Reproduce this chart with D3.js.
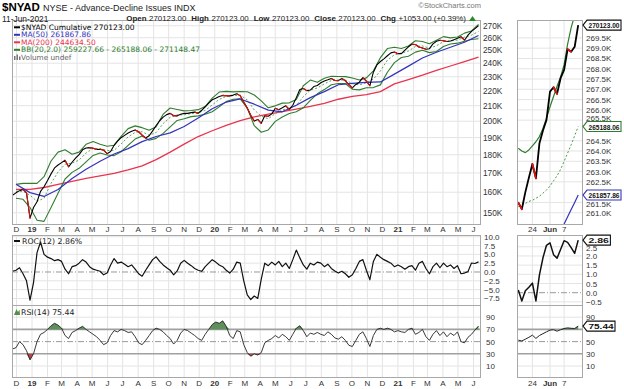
<!DOCTYPE html>
<html>
<head>
<meta charset="utf-8">
<script src="https://cdn.jsdelivr.net/npm/d3@7"></script>
<style>
  body { margin: 0; background: #fff; }
  svg { display: block; font-family: "Liberation Sans", Arial, sans-serif; }
</style>
</head>
<body>
<svg id="chart" width="624" height="389"></svg>
<script>
// ---- data (values in thousands) ----
// weekly closes, first week ending 23-Nov-2018
var priceStart = new Date(2018, 10, 23);
var price = [158.5,
  159.7,160.8,161.4,159.7,147.5,152.5,155.3,160.4,162.8,166.0,
  169.5,172.7,174.3,175.6,176.9,173.3,175.8,178.1,180.1,182.8,
  183.9,184.1,183.7,183.0,183.1,182.6,180.6,181.8,185.4,187.9,
  189.9,191.3,192.7,193.8,194.5,193.5,191.4,189.7,191.1,194.0,
  197.3,200.3,202.6,204.2,205.0,203.5,203.4,204.4,205.0,205.0,
  205.5,205.8,205.1,207.0,209.3,211.7,213.9,215.0,216.2,216.9,
  216.7,216.6,217.1,218.1,216.6,212.4,208.5,203.8,200.1,201.1,
  198.7,203.5,203.2,204.7,208.3,207.4,208.6,209.9,207.6,210.3,
  215.4,220.9,221.7,220.2,220.6,223.0,223.8,225.7,227.0,227.8,
  228.7,227.3,227.2,228.7,227.1,224.3,222.1,224.5,226.1,229.4,
  226.8,223.6,233.3,238.7,241.3,243.3,245.7,247.9,248.6,247.3,
  247.3,250.0,252.7,254.7,254.5,252.6,251.7,250.8,251.2,255.0,
  257.1,257.9,257.5,257.0,257.3,258.4,259.5,260.8,258.0,262.1,
  265.2,267.5,270.123];

var roc = [0.2,
  0.5,1.2,-0.5,-2.5,-8.0,-3.0,5.5,8.5,5.0,4.2,
  3.8,3.2,3.5,3.0,0.8,-0.5,1.5,1.8,2.5,3.5,
  2.8,1.5,0.8,0.5,0.2,-0.8,-0.3,2.0,3.8,2.5,
  2.8,2.2,1.5,2.0,0.8,-0.5,-1.2,0.5,2.0,3.5,
  4.3,3.0,2.0,1.2,0.5,-0.8,0.3,2.5,3.3,2.5,
  1.8,1.0,0.5,0.2,1.5,2.5,3.5,2.8,2.0,1.5,
  0.5,-0.3,0.8,2.8,2.5,-2.5,-6.5,-7.8,-6.8,-7.5,
  -2.0,2.5,1.8,2.8,2.0,3.0,1.5,2.5,1.0,3.5,
  6.2,4.0,2.0,0.8,2.5,2.0,2.8,2.5,1.5,2.2,
  1.0,0.3,-0.3,0.2,-0.5,-1.5,-0.8,1.0,3.0,3.5,
  0.5,-2.2,3.0,5.0,4.2,3.5,3.0,2.5,1.5,2.0,
  1.5,0.8,1.5,1.8,0.5,2.5,3.0,1.0,-0.5,1.5,
  2.5,1.2,2.5,1.5,2.0,1.0,1.8,-0.5,-0.3,0.1,
  2.55,2.4,2.86];

var rsi = [38,
  40,50,45,35,20,30,50,62,65,70,
  76,80,77,72,60,55,65,68,72,75,
  70,66,62,58,52,45,48,60,68,66,
  70,68,65,66,58,48,45,52,60,68,
  72,70,66,60,55,46,52,64,70,68,
  64,60,55,52,62,70,78,82,80,84,
  75,60,55,68,66,45,32,26,30,28,
  32,48,52,55,60,56,62,58,52,62,
  72,76,68,58,64,62,65,62,60,66,
  62,56,54,58,52,44,42,52,62,66,
  55,42,60,70,72,70,72,70,66,68,
  66,65,70,72,62,65,70,58,52,62,
  68,60,66,58,64,60,66,50,48,57,
  62,69,75.44];

// Bollinger bands, every two weeks from 30-Nov-2018
var bandStart = new Date(2018, 10, 30);
var bbMid = [160.5,160.5,158.5,155.5,157,164.5,170.5,174.8,175.3,177,
  181,183.6,183.5,182.4,182.5,186.2,190.4,193.1,193.5,191.4,
  193.0,198.5,202.5,204.0,204.1,204.9,205.4,206.9,210.5,214.2,
  216.2,216.8,217.1,213.9,207.2,203.2,201.6,204.9,207.2,208.4,
  210.1,216.1,220.6,222.0,224.9,227.3,227.7,227.6,225.1,224.2,
  225.7,228.3,234.2,242.3,246.4,247.8,249.3,253.0,253.4,251.6,
  253.5,256.9,257.4,258.1,260.5,262.1,265.188];
var bbUpper = [164.0,164.5,164.5,164.5,168,176.5,181.5,182.8,180.3,181.5,
  186,187.6,186,184.9,185.5,190.7,195.4,197.1,196,194.4,
  196.5,204.5,208.5,207.5,206.6,206.9,207.4,209.4,215,219.2,
  219.7,219.3,219.6,219.4,217.2,213.2,208.6,209.9,211.7,211.9,
  214.1,223.6,227.6,226,228.9,230.3,230.2,230.1,229.1,227.7,
  229.2,234.3,244.2,251.3,252.4,251.3,253.3,257.5,256.9,255.1,
  258,260.9,259.9,260.6,263.8,265.6,271.148];
var bbLower = [157.0,156.5,152.5,146.5,146,152.5,159.5,166.8,170.3,172.5,
  176,179.6,181,179.9,179.5,181.7,185.4,189.1,191,188.4,
  189.5,192.5,196.5,200.5,201.6,202.9,203.4,204.4,206,209.2,
  212.7,214.3,214.6,208.4,197.2,193.2,194.6,199.9,202.7,204.9,
  206.1,208.6,213.6,218,220.9,224.3,225.2,225.1,221.1,220.7,
  222.2,222.3,224.2,233.3,240.4,244.3,245.3,248.5,249.9,248.1,
  249,252.9,254.9,255.6,257.2,258.6,259.228];

// moving averages, every four weeks from 30-Nov-2018
var maStart = new Date(2018, 10, 30);
var ma50 = [164.1,159.8,157.9,161.4,167.1,172.0,176.4,180.4,183.5,187.6,
  190.6,192.8,196.7,202.0,208.0,212.4,214.5,211.0,207.1,206.0,
  210.3,215.4,219.5,224.3,225.2,225.9,226.3,231.9,237.8,244.0,
  248.4,252.3,256.3,261.858];
var ma200 = [161.4,161.4,162.4,164.0,165.6,167.1,168.4,169.8,171.6,173.8,
  177.3,181.5,186.1,190.6,194.1,197.4,200.4,202.7,204.5,206.1,
  207.7,209.5,211.6,214.3,216.2,217.5,219.5,224.9,228.0,231.1,
  234.6,237.9,241.2,244.635];

// last four weeks, daily
var zDates = ["2021-05-18","2021-05-19","2021-05-20","2021-05-21","2021-05-24","2021-05-25",
  "2021-05-26","2021-05-27","2021-05-28","2021-06-01","2021-06-02","2021-06-03",
  "2021-06-04","2021-06-07","2021-06-08","2021-06-09","2021-06-10","2021-06-11"];
var zPrice = [261.49,261.17,262.0,262.7,263.37,262.67,264.38,265.0,265.51,266.89,267.1,266.78,
  267.54,267.94,268.95,268.83,269.07,270.123];
var zUpper = [264.13,264.0,263.92,264.05,264.25,264.45,264.7,265.1,265.6,266.15,266.65,267.15,
  267.6,268.2,269.2,270.0,270.6,271.148];
var zMid = [261.29,261.35,261.45,261.55,261.6,261.7,261.8,261.95,262.1,262.3,262.55,262.8,
  263.1,263.5,263.9,264.3,264.75,265.188];
var zMa50 = [null,null,null,null,null,null,null,null,null,258.9,259.2,259.55,
  259.95,260.45,260.8,261.15,261.5,261.858];
var zRoc = [0.15,-0.45,0.1,0.3,0.52,-0.45,0.97,1.9,2.58,2.71,2.07,1.88,
  2.35,2.83,2.74,2.45,2.14,2.86];
var zRsi = [52.4,51,54,57,60.6,55.2,60,63,66,68.8,69.5,67.1,
  69.5,71.5,72.5,71.8,71.5,75.44];

var priceTicks = [150,160,170,180,190,200,210,220,230,240,250,260,270];
var zPriceTicks = [261,261.5,262.5,263,263.5,264,264.5,265.5,266,266.5,267,267.5,268,268.5,269,269.5];
var rocTicks = [10,7.5,5,2.5,0,-2.5,-5,-7.5];
var zRocTicks = [2.5,2,1.5,1,0.5,0,-0.5];
var rsiTicks = [90,70,50,30,10];
var zRsiTicks = [90,50,30,10];

// ---- layout ----
var svg = d3.select("#chart");
var L = 12, R = 480, ZL = 517, ZR = 582;
var mainP = [20, 224], rocP = [235, 305], rsiP = [305, 377];
var BLACK = "#000", RED = "#e01010", BLUE = "#3333bb", PINK = "#e8344e", GREEN = "#2f7d2f", GRID = "#e4e4e4", FRAME = "#a8a8a8";

function dates(start, step, n) {
  return d3.range(n).map(function (i) { return d3.timeDay.offset(start, step * i); });
}
var wDates = dates(priceStart, 7, price.length);
var bDates = dates(bandStart, 14, bbMid.length);
var mDates = dates(maStart, 28, ma50.length);

var x = d3.scaleTime().domain([new Date(2018, 10, 22), new Date(2021, 5, 14)]).range([L, R]);
var y = d3.scaleLog().domain([144.8, 274.9]).range(mainP.slice().reverse());
var yRoc = d3.scaleLinear().domain([-9.35, 10.48]).range(rocP.slice().reverse());
var yRsi = d3.scaleLinear().domain([-8, 110]).range(rsiP.slice().reverse());
var zx = d3.scalePoint().domain(zDates).range([518.3, 578.2]);
var zy = d3.scaleLinear().domain([260.45, 270.37]).range(mainP.slice().reverse());
var zyRoc = d3.scaleLinear().domain([-0.67, 3.14]).range(rocP.slice().reverse());

var defs = svg.append("defs");
function clip(id, x0, y0, x1, y1) {
  defs.append("clipPath").attr("id", id).append("rect")
    .attr("x", x0).attr("y", y0).attr("width", x1 - x0).attr("height", y1 - y0);
}
clip("cMain", L, mainP[0], R, mainP[1]);
clip("cRoc", L, rocP[0], R, rocP[1]);
clip("cRsi", L, rsiP[0], R, rsiP[1]);
clip("zMain", ZL, mainP[0], ZR, mainP[1]);
clip("zRoc", ZL, rocP[0], ZR, rocP[1]);
clip("zRsi", ZL, rsiP[0], ZR, rsiP[1]);

function txt(g, x0, y0, s, size, fill, anchor, weight) {
  return g.append("text").attr("x", x0).attr("y", y0).text(s)
    .attr("font-size", size).attr("fill", fill || "#222")
    .attr("text-anchor", anchor || "start").attr("font-weight", weight || "normal");
}
function hline(g, x0, x1, yy, color, w, dash) {
  g.append("line").attr("x1", x0).attr("x2", x1).attr("y1", yy).attr("y2", yy)
    .attr("stroke", color).attr("stroke-width", w || 1).attr("stroke-dasharray", dash || null);
}
function vline(g, xx, y0, y1, color) {
  g.append("line").attr("x1", xx).attr("x2", xx).attr("y1", y0).attr("y2", y1)
    .attr("stroke", color).attr("stroke-width", 1);
}
function series(g, xs, vs, xsc, ysc, color, w, dash) {
  var pts = vs.map(function (v, i) { return { x: xs[i], v: v }; });
  g.append("path").datum(pts)
    .attr("d", d3.line().defined(function (d) { return d.v != null; })
      .x(function (d) { return xsc(d.x); }).y(function (d) { return ysc(d.v); }))
    .attr("fill", "none").attr("stroke", color).attr("stroke-width", w)
    .attr("stroke-dasharray", dash || null).attr("stroke-linejoin", "round");
  return pts;
}
// close line: black, red on down moves
function closeLine(g, xs, vs, xsc, ysc, w) {
  var pts = series(g, xs, vs, xsc, ysc, BLACK, w);
  d3.pairs(pts).forEach(function (p) {
    if (p[1].v < p[0].v) {
      g.append("line").attr("x1", xsc(p[0].x)).attr("y1", ysc(p[0].v))
        .attr("x2", xsc(p[1].x)).attr("y2", ysc(p[1].v))
        .attr("stroke", RED).attr("stroke-width", w).attr("stroke-linecap", "round");
    }
  });
}
function valueBox(g, x0, yy, s, color) {
  var w = Math.min(s.length * 4.6 + 5, 621 - x0 - 4);
  g.append("path")
    .attr("d", "M" + x0 + "," + yy + " L" + (x0 + 4) + "," + (yy - 5) + " H" + (x0 + 4 + w) +
      " V" + (yy + 5) + " H" + (x0 + 4) + " Z")
    .attr("fill", "#fff").attr("stroke", color).attr("stroke-width", 1.1);
  txt(g, x0 + 5.5, yy + 3, s, 7.8, "#111", "start", "bold")
    .attr("textLength", w - 3).attr("lengthAdjust", "spacingAndGlyphs");
}

var months = d3.timeMonth.range(new Date(2018, 11, 1), new Date(2021, 5, 2));
var monthLabel = function (m) {
  return m.getMonth() === 0 ? d3.timeFormat("%y")(m) : d3.timeFormat("%b")(m).charAt(0);
};

// ---- grids ----
var grid = svg.append("g");
[mainP, rocP, rsiP].forEach(function (p) {
  months.forEach(function (m) { vline(grid, x(m), p[0], p[1], GRID); });
  ["2021-05-24", "2021-06-01", "2021-06-07"].forEach(function (d) { vline(grid, zx(d), p[0], p[1], GRID); });
});
priceTicks.forEach(function (t) { hline(grid, L, R, y(t), GRID); });
zPriceTicks.forEach(function (t) { hline(grid, ZL, ZR, zy(t), GRID); });
rocTicks.forEach(function (t) { if (t !== 0) hline(grid, L, R, yRoc(t), GRID); });
zRocTicks.forEach(function (t) { if (t !== 0) hline(grid, ZL, ZR, zyRoc(t), GRID); });
[90, 10].forEach(function (t) {
  hline(grid, L, R, yRsi(t), GRID);
  hline(grid, ZL, ZR, yRsi(t), GRID);
});

// ---- reference lines ----
var ref = svg.append("g");
hline(ref, L, R, yRoc(0), "#999", 1, "6,2,1,2");
hline(ref, ZL, ZR, zyRoc(0), "#999", 1, "6,2,1,2");
[[L, R], [ZL, ZR]].forEach(function (s) {
  hline(ref, s[0], s[1], yRsi(70), "#a0a0a0", 1.6);
  hline(ref, s[0], s[1], yRsi(30), "#a0a0a0", 1.6);
  hline(ref, s[0], s[1], yRsi(50), "#999", 1, "6,2,1,2");
});

// ---- main price panel ----
var gm = svg.append("g").attr("clip-path", "url(#cMain)");
series(gm, mDates, ma200, x, y, PINK, 1.3);
series(gm, bDates, bbUpper, x, y, GREEN, 1.1);
series(gm, bDates, bbLower, x, y, GREEN, 1.1);
series(gm, bDates, bbMid, x, y, "#4a9a4a", 0.9, "2,2");
series(gm, mDates, ma50, x, y, BLUE, 1.2);
closeLine(gm, wDates, price, x, y, 1.1);

var gz = svg.append("g").attr("clip-path", "url(#zMain)");
series(gz, zDates, zMid, zx, zy, "#4a9a4a", 1, "2,2");
series(gz, zDates, zUpper, zx, zy, GREEN, 1.2);
series(gz, zDates, zMa50, zx, zy, BLUE, 1.2);
closeLine(gz, zDates, zPrice, zx, zy, 1.8);

// ---- ROC ----
var gr = svg.append("g").attr("clip-path", "url(#cRoc)");
series(gr, wDates, roc, x, yRoc, "#111", 1.2);
var gzr = svg.append("g").attr("clip-path", "url(#zRoc)");
series(gzr, zDates, zRoc, zx, zyRoc, "#111", 1.5);

// ---- RSI ----
function rsiPanel(g, xs, vs, xsc, w) {
  var pts = vs.map(function (v, i) { return { x: xs[i], v: v }; });
  g.append("path").datum(pts)
    .attr("d", d3.area().x(function (d) { return xsc(d.x); })
      .y0(yRsi(70)).y1(function (d) { return yRsi(Math.max(d.v, 70)); }))
    .attr("fill", "#5f8f5a");
  g.append("path").datum(pts)
    .attr("d", d3.area().x(function (d) { return xsc(d.x); })
      .y0(yRsi(30)).y1(function (d) { return yRsi(Math.min(d.v, 30)); }))
    .attr("fill", "#b84848");
  series(g, xs, vs, xsc, yRsi, "#222", w);
}
rsiPanel(svg.append("g").attr("clip-path", "url(#cRsi)"), wDates, rsi, x, 0.9);
rsiPanel(svg.append("g").attr("clip-path", "url(#zRsi)"), zDates, zRsi, zx, 1);

// ---- frames ----
var fr = svg.append("g").attr("fill", "none").attr("stroke", FRAME).attr("stroke-width", 1);
[mainP, rocP, rsiP].forEach(function (p) {
  fr.append("rect").attr("x", L + 0.5).attr("y", p[0] + 0.5).attr("width", R - L).attr("height", p[1] - p[0]);
  fr.append("rect").attr("x", ZL + 0.5).attr("y", p[0] + 0.5).attr("width", ZR - ZL).attr("height", p[1] - p[0]);
});

// ---- axis labels ----
var ax = svg.append("g");
priceTicks.forEach(function (t) { txt(ax, R + 3, y(t) + 3, t + "K", 8.3, "#333"); });
zPriceTicks.forEach(function (t) {
  var shift = t === 265.5 ? -2.5 : (t === 261.5 ? 1.2 : 0);
  txt(ax, ZR + 4, zy(t) + 3 + shift, d3.format(".1f")(t) + "K", 8, "#333");
});
rocTicks.forEach(function (t) { txt(ax, R + 4, yRoc(t) + 3, d3.format(".1f")(t), 8, "#333"); });
zRocTicks.forEach(function (t) { txt(ax, ZR + 4, zyRoc(t) + 3 + (t === 2.5 ? 1.5 : 0), d3.format(".1f")(t), 8, "#333"); });
rsiTicks.forEach(function (t) { txt(ax, R + 6, yRsi(t) + 3, t, 8, "#333"); });
zRsiTicks.forEach(function (t) { txt(ax, ZR + 4, yRsi(t) + 3, t, 8, "#333"); });
[231.5, 385.5].forEach(function (yy) {
  months.forEach(function (m) {
    var yr = m.getMonth() === 0;
    txt(ax, x(m), yy, monthLabel(m), 8, "#333", "middle", yr ? "bold" : "normal");
  });
  txt(ax, zx("2021-05-24"), yy, "24", 8, "#333", "middle");
  txt(ax, zx("2021-06-01"), yy, "Jun", 8, "#333", "middle", "bold");
  txt(ax, zx("2021-06-07"), yy, "7", 8, "#333", "middle");
});

// value boxes on the right panels
valueBox(ax, 583, zy(265.188), "265188.06", GREEN);
valueBox(ax, 583, zy(261.858), "261857.86", BLUE);
valueBox(ax, 583, zy(270.123), "270123.00", "#111");
valueBox(ax, 583, zyRoc(2.86), "2.86", "#111");
valueBox(ax, 583, yRsi(75.44), "75.44", "#111");

// ---- header ----
var hd = svg.append("g");
txt(hd, 2, 11, "$NYAD", 11.5, "#000", "start", "bold");
txt(hd, 43, 11, "NYSE - Advance-Decline Issues INDX", 9, "#222");
txt(hd, 2, 21.5, "11-Jun-2021", 8.4, "#222");
txt(hd, 481, 8, "\u00a9StockCharts.com", 7.5, "#777", "end");

// open/high/low/close line, laid out piece by piece, right edge at 466
var ohlcParts = [["Open", "bold", 2.5], ["270123.00", "normal", 5], ["High", "bold", 2.5], ["270123.00", "normal", 5],
  ["Low", "bold", 2.5], ["270123.00", "normal", 5], ["Close", "bold", 2.5], ["270123.00", "normal", 5],
  ["Chg", "bold", 2.5], ["+1053.00 (+0.39%)", "normal", 0]];
var ohlcSize = 7.9;
var parts = ohlcParts.map(function (p) {
  var t = txt(hd, 0, 21.3, p[0], ohlcSize, "#222", "start", p[1]);
  return { node: t, w: t.node().getComputedTextLength(), gap: p[2] };
});
var total = d3.sum(parts, function (p) { return p.w + p.gap; });
var cx = 466 - total;
parts.forEach(function (p) { p.node.attr("x", cx); cx += p.w + p.gap; });
hd.append("path").attr("d", "M469,21 L472.5,16 L476,21 Z").attr("fill", "#2a8a2a");

// ---- legends ----
var lg = svg.append("g").attr("font-family", "'DejaVu Sans', Verdana, sans-serif");
var legendRows = [["$NYAD Cumulative 270123.00", "#000"], ["MA(50) 261867.86", BLUE],
  ["MA(200) 244634.50", PINK], ["BB(20,2.0) 259227.66 - 265188.06 - 271148.47", GREEN]];
legendRows.forEach(function (r, i) {
  var yy = 29.8 + i * 7.5;
  hline(lg, 14, 20, yy - 2.5, r[1], 2);
  txt(lg, 21, yy, r[0], 7.5, r[1]);
});
lg.append("rect").attr("x", 14).attr("y", 56).attr("width", 1.5).attr("height", 4).attr("fill", "#777");
lg.append("rect").attr("x", 16.5).attr("y", 54.5).attr("width", 1.5).attr("height", 5.5).attr("fill", "#777");
lg.append("rect").attr("x", 19).attr("y", 56.5).attr("width", 1.5).attr("height", 3.5).attr("fill", "#777");
txt(lg, 21, 60, "Volume undef", 7.3, "#666");

hline(lg, 14, 20, 241, "#111", 2);
txt(lg, 22, 243.5, "ROC(12) 2.86%", 7.8, "#222");
lg.append("path").attr("d", "M14,315 L16.5,309 L18,312 L19.5,309.5 L20,315 Z").attr("fill", "#4f8f4a");
txt(lg, 21, 315, "RSI(14) 75.44", 7.8, "#222");
</script>
</body>
</html>
